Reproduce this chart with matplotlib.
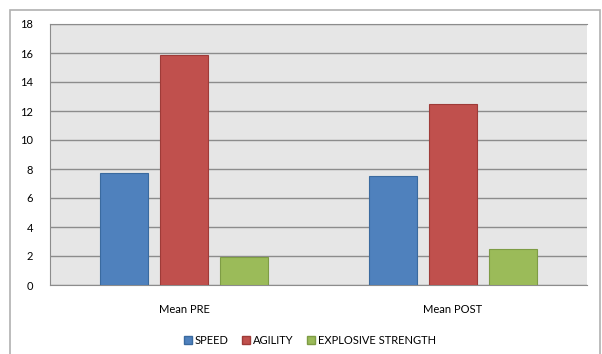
import numpy as np
import matplotlib.pyplot as plt
from matplotlib.patches import Rectangle, Patch

# mean scores before and after the programme
groups = ["Mean PRE", "Mean POST"]
series = ["SPEED", "AGILITY", "EXPLOSIVE STRENGTH"]
speed = [7.75, 7.5]
agility = [15.85, 12.45]
explosive = [1.95, 2.5]
yticks = [0, 2, 4, 6, 8, 10, 12, 14, 16, 18]

colors = ["#4F81BD", "#C0504D", "#9BBB59"]
edges = ["#3A6A9F", "#9E3B38", "#7E9C45"]

plt.rcParams['font.family'] = ['Lato', 'DejaVu Sans']

fig = plt.figure(figsize=(6.02, 3.54), dpi=100)
# outer chart frame
fig.patches.append(Rectangle((10 / 602, -0.05), 590 / 602, 1 - 10 / 354 + 0.05,
                             transform=fig.transFigure, fill=False,
                             edgecolor="#B0B0B0", linewidth=1.2))

ax = fig.add_axes([50 / 602, 1 - 285 / 354, 537 / 602, 261 / 354])
ax.set_facecolor("#E6E6E6")

x = np.arange(len(groups))
w = 0.179
step = 0.223
for i, vals in enumerate([speed, agility, explosive]):
    ax.bar(x + (i - 1) * step, vals, width=w, color=colors[i],
           edgecolor=edges[i], linewidth=0.8, zorder=3)

ax.set_xlim(-0.5, 1.5)
ax.set_ylim(0, 18)
ax.set_yticks(yticks)
ax.set_yticklabels([str(t) for t in yticks], fontsize=8)
ax.set_xticks(x)
ax.set_xticklabels(groups, fontsize=8)
ax.tick_params(axis="y", length=0, pad=12)
ax.tick_params(axis="x", length=0, pad=14)
ax.yaxis.grid(True, color="#8C8C8C", linewidth=1.0, zorder=1)
ax.set_axisbelow(True)
for s in ["right"]:
    ax.spines[s].set_visible(False)
ax.spines["top"].set_color("#8C8C8C")
ax.spines["left"].set_color("#8C8C8C")
ax.spines["bottom"].set_color("#8C8C8C")

handles = [Patch(facecolor=colors[i], edgecolor=edges[i], label=series[i])
           for i in range(3)]
fig.legend(handles=handles, loc="center", bbox_to_anchor=(0.515, 1 - 340 / 354),
           ncol=3, frameon=False, fontsize=8, handlelength=0.7, handleheight=0.7,
           handletextpad=0.3, columnspacing=1.2)

fig.savefig("out.png", dpi=100)
